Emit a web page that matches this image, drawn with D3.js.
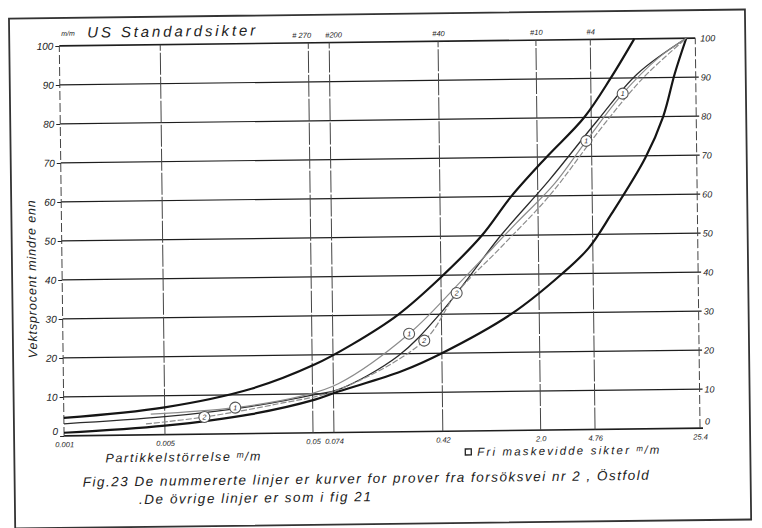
<!DOCTYPE html>
<html>
<head>
<meta charset="utf-8">
<script src="https://cdn.jsdelivr.net/npm/d3@7"></script>
<style>
  body { margin: 0; background: #fff; }
  text { font-family: "Liberation Sans", Arial, sans-serif; font-style: italic; fill: #222; }
</style>
</head>
<body>
<svg id="chart" width="762" height="528"></svg>
<script>
// sieve sizes (mm) on the x axis, with their labels
const sieveSizes = [0.001, 0.005, 0.053, 0.074, 0.42, 2.0, 4.76, 25.4];
const sieveLabels = ["0.001", "0.005", "0.05", "0.074", "0.42", "2.0", "4.76", "25.4"];
const usSieves = [0.053, 0.074, 0.42, 2.0, 4.76];
const usSieveLabels = ["# 270", "#200", "#40", "#10", "#4"];
const pctTicks = [0, 10, 20, 30, 40, 50, 60, 70, 80, 90, 100];

// envelope curves (fig 21)
const upperSize = [0.001, 0.005, 0.02, 0.055, 0.1, 0.21, 0.42, 0.81, 1.31, 2.32, 4.25, 6.54, 9.6];
const upperPct = [4.6, 7, 11.5, 17.5, 22.5, 30, 39.5, 50, 60, 70, 80, 90, 100];
const lowerSize = [0.001, 0.005, 0.02, 0.055, 0.08, 0.22, 0.42, 1.3, 2.9, 4.45, 6.4, 11.2, 15, 18.2, 22];
const lowerPct = [0.8, 2.3, 5, 8.5, 10.5, 15.5, 20, 30, 40, 46.5, 55, 69.5, 80, 91, 100];
const midSize = [0.001, 0.005, 0.02, 0.055, 0.08, 0.21, 0.42, 1.1, 2.4, 5.2, 10, 22];
const midPct = [3.1, 4.6, 7, 9.8, 11, 19.5, 30.5, 50, 64, 79, 91, 100];

// numbered sample curves, forsøksvei nr 2
const s1Size = [0.004, 0.0154, 0.045, 0.08, 0.25, 0.6, 1.4, 2.6, 4.38, 7.9, 14, 22];
const s1Pct = [5.3, 6.7, 9.5, 12.5, 25.1, 39, 53, 63, 74, 86, 95, 100];
const s1Marks = [1, 4, 8, 9];
const s2Size = [0.0037, 0.0094, 0.03, 0.08, 0.318, 0.538, 1.1, 2.4, 5.5, 11, 22];
const s2Pct = [2.8, 4.4, 7.5, 11, 23.3, 35.4, 47, 60, 77, 90, 100];
const s2Marks = [1, 4, 5];

const margin = { left: 62, right: 64, top: 42, bottom: 96 };
const width = 762, height = 528;

const svg = d3.select("#chart");
// the scanned sheet sits slightly askew
const g = svg.append("g").attr("transform", "rotate(-0.7,381,264)");

g.append("rect")
  .attr("x", 12).attr("y", 14).attr("width", 736).attr("height", 510)
  .attr("fill", "none").attr("stroke", "#333").attr("stroke-width", 1.8);

const x = d3.scaleLog().domain([0.001, 25.4]).range([margin.left, width - margin.right]);
const y = d3.scaleLinear().domain([0, 100]).range([height - margin.bottom, margin.top]);

// horizontal grid
g.append("g").selectAll("line")
  .data(pctTicks)
  .join("line")
  .attr("x1", x(0.001)).attr("x2", d => d === 100 ? x(25.4) : x(25.4) + 3)
  .attr("y1", d => y(d)).attr("y2", d => y(d))
  .attr("stroke", "#1e1e1e").attr("stroke-width", d => (d === 0 || d === 100) ? 1.6 : 1.2);

// vertical grid at the sieve sizes
g.append("g").selectAll("line")
  .data(sieveSizes)
  .join("line")
  .attr("x1", d => x(d)).attr("x2", d => x(d))
  .attr("y1", y(0)).attr("y2", y(100))
  .attr("stroke", "#444")
  .attr("stroke-width", 1)
  .attr("stroke-dasharray", (d, i) => (i === 0 || i === sieveSizes.length - 1) ? "9,3" : "22,2");

// axes
const styleAxis = (sel, size) => {
  sel.select(".domain").remove();
  sel.selectAll("line").attr("stroke", "#222");
  sel.selectAll("text")
    .attr("font-family", "Liberation Sans, Arial, sans-serif")
    .attr("font-style", "italic")
    .attr("font-size", size)
    .attr("fill", "#222");
};

g.append("g")
  .attr("transform", `translate(${x(0.001)},0)`)
  .call(d3.axisLeft(y).tickValues(pctTicks).tickSize(4).tickPadding(2))
  .call(s => styleAxis(s, 10))
  .call(s => s.selectAll(".tick text").attr("dy", d => d === 0 ? "-0.15em" : "0.32em"));

g.append("g")
  .attr("transform", `translate(${x(25.4)},0)`)
  .call(d3.axisRight(y).tickValues(pctTicks).tickSize(0).tickPadding(5))
  .call(s => styleAxis(s, 9))
  .call(s => s.selectAll(".tick text").attr("dy", d => d === 0 ? "-0.45em" : "0.32em"));

g.append("g")
  .attr("transform", `translate(0,${y(0)})`)
  .call(d3.axisBottom(x).tickValues(sieveSizes).tickFormat((d, i) => sieveLabels[i]).tickSize(0).tickPadding(6))
  .call(s => styleAxis(s, 7.5));

g.append("g")
  .attr("transform", `translate(0,${y(100)})`)
  .call(d3.axisTop(x).tickValues(usSieves).tickFormat((d, i) => usSieveLabels[i]).tickSize(0).tickPadding(5))
  .call(s => styleAxis(s, 7.5))
  .call(s => s.selectAll(".tick text").attr("dx", (d, i) => i === 0 ? -7 : i === 1 ? 4 : 0));

// curves
const line = d3.line()
  .x(d => x(d[0]))
  .y(d => y(d[1]))
  .curve(d3.curveCatmullRom.alpha(0.5));

const series = [
  { size: upperSize, pct: upperPct, color: "#151515", w: 2.2, dash: null },
  { size: lowerSize, pct: lowerPct, color: "#151515", w: 2.2, dash: null },
  { size: midSize, pct: midPct, color: "#2b2b2b", w: 1.3, dash: null },
  { size: s1Size, pct: s1Pct, color: "#8c8c8c", w: 1.2, dash: null },
  { size: s2Size, pct: s2Pct, color: "#8c8c8c", w: 1.2, dash: "6,2" }
];

g.append("g").selectAll("path")
  .data(series)
  .join("path")
  .attr("d", s => line(d3.zip(s.size, s.pct)))
  .attr("fill", "none")
  .attr("stroke", s => s.color)
  .attr("stroke-width", s => s.w)
  .attr("stroke-dasharray", s => s.dash);

// numbered sample points
const samples = [
  { label: "1", pts: s1Marks.map(i => [s1Size[i], s1Pct[i]]) },
  { label: "2", pts: s2Marks.map(i => [s2Size[i], s2Pct[i]]) }
];
const marker = g.append("g").selectAll("g")
  .data(samples.flatMap(s => s.pts.map(p => ({ label: s.label, p }))))
  .join("g")
  .attr("transform", d => `translate(${x(d.p[0])},${y(d.p[1])})`);
marker.append("circle")
  .attr("r", 5.5)
  .attr("fill", "#fff")
  .attr("stroke", "#555")
  .attr("stroke-width", 1.1);
marker.append("text")
  .attr("text-anchor", "middle")
  .attr("dy", "0.35em")
  .attr("font-size", 7)
  .attr("fill", "#444")
  .text(d => d.label);

// texts
g.append("text")
  .attr("x", 90).attr("y", 34)
  .attr("font-size", 15)
  .attr("textLength", 168).attr("lengthAdjust", "spacing")
  .text("US Standardsikter");

g.append("text")
  .attr("x", 64).attr("y", 32)
  .attr("font-size", 7)
  .text("m/m");

g.append("text")
  .attr("transform", "translate(36,275) rotate(-90)")
  .attr("text-anchor", "middle")
  .attr("font-size", 12.5)
  .attr("textLength", 158).attr("lengthAdjust", "spacing")
  .text("Vektsprocent mindre enn");

g.append("text")
  .attr("x", 103).attr("y", 459)
  .attr("font-size", 12.5)
  .attr("textLength", 155).attr("lengthAdjust", "spacing")
  .text("Partikkelstörrelse ᵐ/m");

g.append("rect")
  .attr("x", 463).attr("y", 450).attr("width", 6).attr("height", 6)
  .attr("fill", "none").attr("stroke", "#222").attr("stroke-width", 1.3);

g.append("text")
  .attr("x", 475).attr("y", 457)
  .attr("font-size", 11.5)
  .attr("textLength", 182).attr("lengthAdjust", "spacing")
  .text("Fri maskevidde sikter ᵐ/m");

g.append("text")
  .attr("x", 80).attr("y", 483)
  .attr("font-size", 13.5)
  .attr("textLength", 566).attr("lengthAdjust", "spacing")
  .text("Fig.23 De nummererte linjer er kurver for prover fra forsöksvei nr 2 , Östfold");

g.append("text")
  .attr("x", 136).attr("y", 501)
  .attr("font-size", 13.5)
  .attr("textLength", 232).attr("lengthAdjust", "spacing")
  .text(".De övrige linjer er som i fig 21");
</script>
</body>
</html>
